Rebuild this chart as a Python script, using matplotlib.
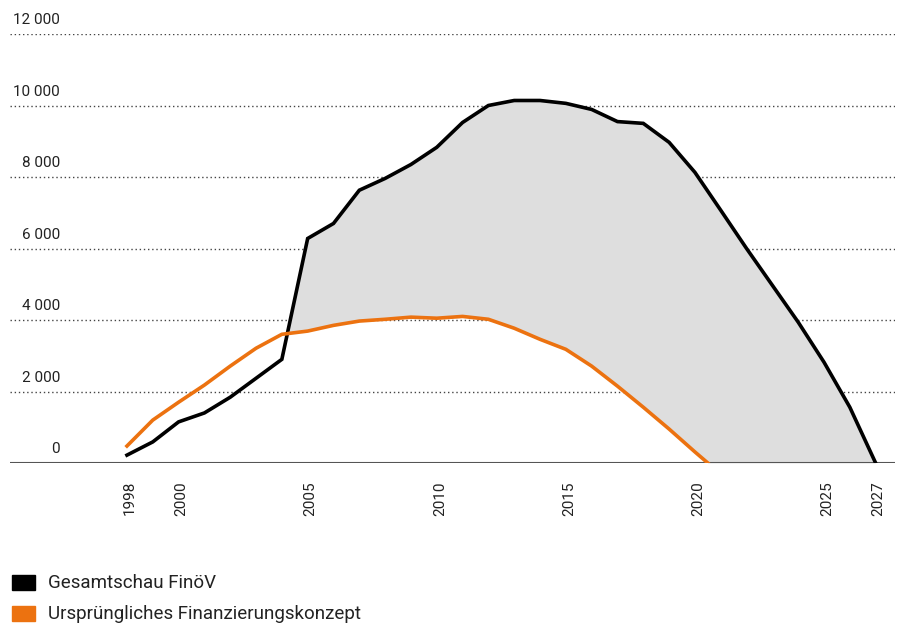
import numpy as np
import matplotlib.pyplot as plt
import matplotlib.transforms as mtransforms
from matplotlib.patches import Rectangle

plt.rcParams['font.family'] = ['Roboto', 'DejaVu Sans']

# years and values
years = list(range(1998, 2028))
gesamtschau = [220, 590, 1150, 1400, 1840, 2370, 2900, 6280, 6700, 7630,
               7960, 8350, 8830, 9525, 10000, 10140, 10140, 10060, 9890, 9550,
               9500, 8970, 8130, 7070, 6000, 4970, 3940, 2820, 1560, 0]

orig_years = list(range(1998, 2021)) + [2020.5]
ursprung = [475, 1200, 1700, 2180, 2710, 3210, 3600, 3690, 3850, 3970,
            4020, 4080, 4050, 4100, 4020, 3770, 3460, 3180, 2710, 2150,
            1560, 950, 310, 0]

yticks = [0, 2000, 4000, 6000, 8000, 10000, 12000]
ytick_labels = ['0', '2 000', '4 000', '6 000', '8 000', '10 000', '12 000']
xticks = [1998, 2000, 2005, 2010, 2015, 2020, 2025, 2027]

black = '#000000'
orange = '#ec7210'

fig = plt.figure(figsize=(9.03, 6.28), dpi=100)
W, H = 903, 628
ax = fig.add_axes([10 / W, 1 - 463 / H, 885 / W, (463 - 34) / H])

ax.set_xlim(1993.47, 2027.75)
ax.set_ylim(0, 12000)

# grey area between both curves
xf = np.linspace(1998, 2027, 2000)
gf = np.interp(xf, years, gesamtschau)
of = np.interp(xf, orig_years, ursprung, right=0)
ax.fill_between(xf, of, gf, where=gf >= of, color='#dedede', lw=0, zorder=2)

for v in yticks[1:]:
    ax.axhline(v, color='#444444', lw=1, ls=(0, (1, 2)), zorder=1)
ax.axhline(0, color='#555555', lw=1.5, zorder=3)

ax.plot(years, gesamtschau, color=black, lw=2.6, zorder=4, solid_joinstyle='miter')
ax.plot(orig_years, ursprung, color=orange, lw=2.6, zorder=4)

for v, lab in zip(yticks, ytick_labels):
    ax.annotate(lab, xy=(50 / 885, v), xycoords=ax.get_yaxis_transform(),
                xytext=(0, 5), textcoords='offset points', ha='right', va='bottom',
                fontsize=11, color='#222222')

ax.set_xticks(xticks)
ax.set_xticklabels([str(x) for x in xticks], rotation=90, fontsize=11, color='#222222')
ax.tick_params(axis='x', length=0, pad=13)
shift = mtransforms.ScaledTranslation(3 / 100, 0, fig.dpi_scale_trans)
for t in ax.get_xticklabels():
    t.set_transform(t.get_transform() + shift)
ax.set_yticks([])
for s in ax.spines.values():
    s.set_visible(False)

# legend
fig.patches.append(Rectangle((12 / W, 1 - 590 / H), 23 / W, 15 / H,
                             transform=fig.transFigure, color=black, figure=fig))
fig.patches.append(Rectangle((12 / W, 1 - 621 / H), 23 / W, 15 / H,
                             transform=fig.transFigure, color=orange, figure=fig))
fig.text(48 / W, 1 - 583 / H, 'Gesamtschau FinöV', fontsize=13.5, va='center', color='#222222')
fig.text(48 / W, 1 - 614 / H, 'Ursprüngliches Finanzierungskonzept', fontsize=13.5,
         va='center', color='#222222')

fig.savefig('out.png', dpi=100)
